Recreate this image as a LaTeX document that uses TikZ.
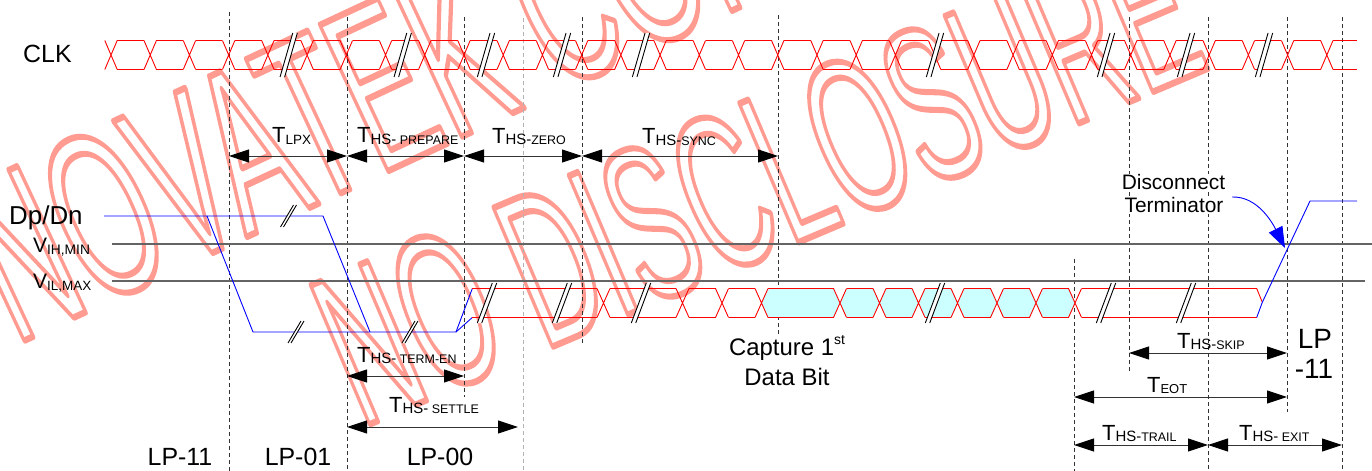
\documentclass[tikz,border=0pt]{standalone}
\usepackage{fontspec}
\setmainfont{Liberation Sans}
\usetikzlibrary{arrows.meta}
\definecolor{wmcol}{RGB}{255,155,145}
\definecolor{hscyan}{RGB}{204,255,255}
\definecolor{vline}{RGB}{100,100,100}
\newcommand\wmtext[1]{\special{pdf:literal direct 1 Tr 6.5 w 1 j 1 J 1 0.608 0.569 RG}#1\special{pdf:literal direct 0 Tr 1 w 0 j 0 J}}
% break mark: x, y, half height, slant, half gap
\newcommand\brkmark[5]{%
  \fill[white] ({#1-#5+#4},{#2-#3}) -- ({#1+#5+#4},{#2-#3}) -- ({#1+#5-#4},{#2+#3}) -- ({#1-#5-#4},{#2+#3}) -- cycle;
  \draw[black, line width=0.9bp] ({#1-#5+#4},{#2-#3}) -- ({#1-#5-#4},{#2+#3}) ({#1+#5+#4},{#2-#3}) -- ({#1+#5-#4},{#2+#3});}
\newcommand\tsub[2]{T\raisebox{-1.5pt}{\fontsize{15}{15}\selectfont #1\fontsize{12.5}{12.5}\selectfont #2}}
\begin{document}
\begin{tikzpicture}[x=1bp,y=-1bp,
  clk/.style={red, line width=0.9bp},
  dl/.style={blue, line width=0.9bp},
  vdash/.style={black!80, line width=0.8bp, dash pattern=on 4bp off 3bp},
  ldash/.style={black!30, line width=0.8bp, dash pattern=on 4bp off 3bp},
  refl/.style={vline, line width=1.1bp},
  tarr/.style={black!80, line width=0.9bp, {Triangle[length=20bp,width=13bp,color=black]}-{Triangle[length=20bp,width=13bp,color=black]}},
  lbl/.style={inner sep=0pt, font=\fontsize{25}{25}\selectfont},
  tl/.style={inner sep=0pt, anchor=base west, font=\fontsize{22}{22}\selectfont},
  wm/.style={inner sep=0pt, anchor=base west, text=wmcol},
]
\useasboundingbox (0,0) rectangle (1372,471);
% watermark
\node[wm, font=\fontsize{235}{235}\selectfont, rotate=25, xscale=0.52] (wm1) at (15,345) {\wmtext{NOVATEK CONFIDENTIAL}};
\node[wm, font=\fontsize{220}{220}\selectfont, rotate=23, xscale=0.51] (wm2) at (361,428) {\wmtext{NO DISCLOSURE}};
% vertical dashed lines
\draw[vdash] (229,12) -- (229,471);
\draw[vdash] (347,17) -- (347,471);
\draw[vdash] (464,17) -- (464,397);
\draw[ldash] (523,18) -- (523,471);
\draw[vdash] (582,17) -- (582,345);
\draw[vdash] (778,15) -- (778,335);
\draw[vdash] (1074,259) -- (1074,471);
\draw[vdash] (1129,17) -- (1129,373);
\draw[vdash] (1208,17) -- (1208,471);
\draw[vdash] (1287,17) -- (1287,412);
\draw[vdash] (1342,17) -- (1342,471);
% reference levels
\draw[refl] (112,244) -- (1372,244);
\draw[refl] (112,281) -- (1365,281);
% clock
\foreach \k in {0,...,31}{
  \pgfmathsetmacro\c{111+39.22*\k}
  \draw[clk] ({\c-6.2},40.5) -- ({\c+6.2},69.5) ({\c-6.2},69.5) -- ({\c+6.2},40.5);
}
\foreach \k in {0,...,30}{
  \pgfmathsetmacro\a{111+39.22*\k+6.2}
  \pgfmathsetmacro\b{111+39.22*(\k+1)-6.2}
  \draw[clk] (\a,40.5) -- (\b,40.5) (\a,69.5) -- (\b,69.5);
}
\draw[clk] (1333,40.5) -- (1357,40.5) (1333,69.5) -- (1357,69.5);
\foreach \x in {288.7,402.7,486,562,641,935,1106,1186,1264}{\brkmark{\x}{55}{22}{6.35}{2.3}}
% Dp/Dn low-power part
\draw[dl] (104,216) -- (207,216) -- (253,332) -- (456,332) -- (472.3,288.5);
\draw[dl] (207,216) -- (323,216) -- (370,332);
\draw[dl] (456,332) -- (472.3,317.5);
\brkmark{288.5}{216}{11}{6.5}{1.5}
\brkmark{296}{332}{11}{6.5}{1.5}
\brkmark{410}{332}{11}{6.5}{1.5}
% HS data
\foreach \a/\b in {761.5/840, 840/879.5, 879.5/918.5, 918.5/957.5, 957.5/997, 997/1036, 1036/1075}
  \fill[hscyan] (\a,303) -- ({\a+6.5},288.5) -- ({\b-6.5},288.5) -- (\b,303) -- ({\b-6.5},317.5) -- ({\a+6.5},317.5) -- cycle;
\foreach \a/\b in {472.3/597, 610/676, 689/715.5, 728.5/755, 768/833.5, 846.5/873, 886/912, 925/951, 964/990.5, 1003.5/1029.5, 1042.5/1068.5, 1081.5/1256.7}
  \draw[clk] (\a,288.5) -- (\b,288.5) (\a,317.5) -- (\b,317.5);
\foreach \d in {603.5,682.5,722,761.5,840,879.5,918.5,957.5,997,1036,1075}
  \draw[clk] ({\d-6.5},288.5) -- ({\d+6.5},317.5) ({\d-6.5},317.5) -- ({\d+6.5},288.5);
\draw[clk] (1256.7,288.5) -- (1262.3,302.3);
\draw[dl] (1256.7,317.5) -- (1262.3,302.3) -- (1310,201) -- (1357,201);
\foreach \x in {487,562,641,935,1106,1186}{\brkmark{\x}{303}{20}{7.5}{2.2}}
% labels
\node[lbl, anchor=base west] (clk) at (23,63) {CLK};
\node[lbl, anchor=base west, font=\fontsize{26}{26}\selectfont] (dpdn) at (9,225) {Dp/Dn};
\node[inner sep=0pt, anchor=base west, font=\fontsize{21}{21}\selectfont] (vih) at (33,253) {V\raisebox{-2pt}{\fontsize{13.8}{13.8}\selectfont IH,MIN}};
\node[inner sep=0pt, anchor=base west, font=\fontsize{21}{21}\selectfont] (vil) at (33,289) {V\raisebox{-2pt}{\fontsize{13.5}{13.5}\selectfont IL,MAX}};
% timing arrows
\coordinate (a1) at (229,156); \coordinate (a2) at (347,156); \coordinate (a3) at (464,156);
\coordinate (a4) at (582,156); \coordinate (a5) at (778,156);
\draw[tarr] (a1) -- (a2);
\draw[tarr] (a2) -- (a3);
\draw[tarr] (a3) -- (a4);
\draw[tarr] (a4) -- (a5);
\node[tl] (tlpx) at (272,143) {T\raisebox{-1.5pt}{\fontsize{13.5}{13.5}\selectfont LPX}};
\node[tl] (tprep) at (357,143) {\tsub{HS-}{ PREPARE}};
\node[tl] (tzero) at (492,143.5) {\tsub{HS-}{ZERO}};
\node[tl] (tsync) at (642,144) {\tsub{HS-}{SYNC}};
\coordinate (b1) at (347,376); \coordinate (b2) at (464,376);
\coordinate (c1) at (347,427); \coordinate (c2) at (518,427);
\draw[tarr] (b1) -- (b2);
\draw[tarr] (c1) -- (c2);
\node[tl] (tterm) at (357,362) {\tsub{HS-}{ TERM-EN}};
\node[tl] (tsettle) at (389,412) {\tsub{HS-}{ SETTLE}};
\coordinate (d1) at (1129,353); \coordinate (d2) at (1287,353);
\coordinate (e1) at (1074,397); \coordinate (e2) at (1287,397);
\coordinate (f1) at (1074,445); \coordinate (f2) at (1208,445); \coordinate (f3) at (1342,445);
\draw[tarr] (d1) -- (d2);
\draw[tarr] (e1) -- (e2);
\draw[tarr] (f1) -- (f2);
\draw[tarr] (f2) -- (f3);
\node[tl] (tskip) at (1177,348) {\tsub{HS-}{SKIP}};
\node[tl] (teot) at (1147,392) {T\raisebox{-1.5pt}{\fontsize{13}{13}\selectfont EOT}};
\node[tl] (ttrail) at (1102,440) {\tsub{HS-}{TRAIL}};
\node[tl] (texit) at (1239,440) {\tsub{HS-}{ EXIT}};
% state labels
\node[lbl, anchor=base] (lp11) at (180,465) {LP-11};
\node[lbl, anchor=base] (lp01) at (298,465) {LP-01};
\node[lbl, anchor=base] (lp00) at (440,465) {LP-00};
\node[lbl, anchor=base, font=\fontsize{28}{28}\selectfont] (lpa) at (1315,348) {LP};
\node[lbl, anchor=base, font=\fontsize{28}{28}\selectfont] (lpb) at (1314,378) {-11};
\node[lbl, anchor=base, font=\fontsize{24}{24}\selectfont] (cap1) at (787,355) {Capture 1\raisebox{11pt}{\fontsize{14}{14}\selectfont st}};
\node[lbl, anchor=base, font=\fontsize{24}{24}\selectfont] (cap2) at (787,385) {Data Bit};
\node[lbl, anchor=base, fill=white, inner sep=1pt, font=\fontsize{21}{21}\selectfont] (disc) at (1173.5,190) {Disconnect};
\node[lbl, anchor=base, fill=white, inner sep=1pt, font=\fontsize{21}{21}\selectfont] (term) at (1174,213) {Terminator};
\coordinate (dts) at (1232,197);
\coordinate (dt) at (1285,248);
\draw[dl, -{Triangle[length=21bp,width=15bp]}] (dts) .. controls (1258,196) and (1273,224) .. (dt);
\end{tikzpicture}
\end{document}
